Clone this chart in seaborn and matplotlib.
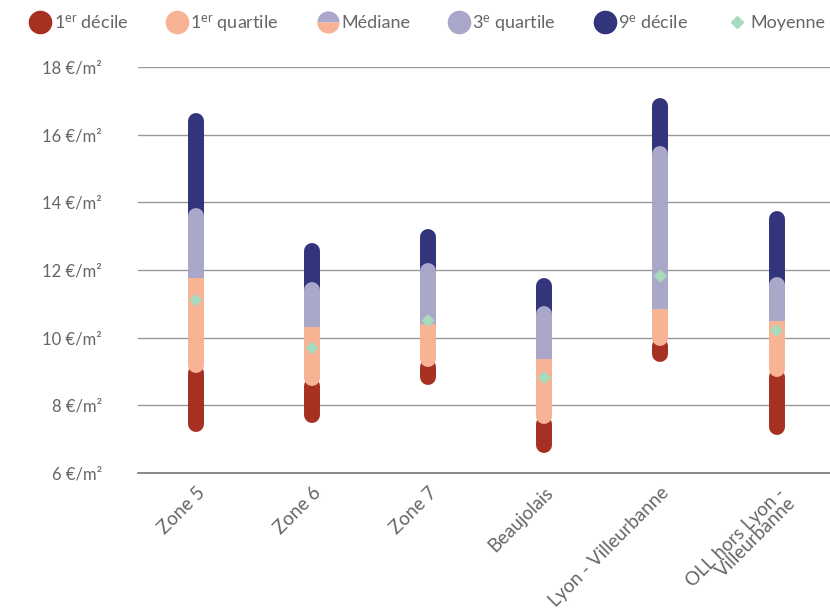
import matplotlib
matplotlib.use("Agg")
import matplotlib.pyplot as plt
from matplotlib.lines import Line2D
import numpy as np
import pandas as pd
import seaborn as sns

zones = ['Zone 5', 'Zone 6', 'Zone 7', 'Beaujolais', 'Lyon - Villeurbanne',
         'OLL hors Lyon -\nVilleurbanne']
d1 = [7.20, 7.47, 8.59, 6.59, 9.29, 7.12]
q1 = [8.95, 8.57, 9.12, 7.44, 9.75, 8.83]
med = [11.76, 10.32, 10.40, 9.36, 10.85, 10.48]
q3 = [13.82, 11.63, 12.20, 10.94, 15.65, 11.80]
d9 = [16.63, 12.81, 13.20, 11.77, 17.08, 13.75]
moy = [11.11, 9.69, 10.50, 8.82, 11.82, 10.21]

c_d1 = '#A63122'
c_q1 = '#F7B394'
c_q3 = '#A9A8CB'
c_d9 = '#32347C'
c_moy = '#A8DABD'
grey = '#666666'

sns.set_theme(style='white')
plt.rcParams['font.family'] = ['Lato', 'DejaVu Sans']
plt.rcParams['mathtext.fontset'] = 'custom'
plt.rcParams['mathtext.rm'] = 'Lato'
plt.rcParams['mathtext.it'] = 'Lato'
plt.rcParams['mathtext.bf'] = 'Lato'

fig = plt.figure(figsize=(8.3, 6.14), dpi=100)
ax = fig.add_axes([0.166, 0.2297, 0.834, 0.6613])
ax.set_ylim(6, 18)
ax.set_xlim(-0.5, 5.46)

x = np.arange(len(zones))
lw = 11.5
# half the bar width in data units, so the round caps stay inside the values
px_per_unit = ax.bbox.height / 12
r = (lw / 2 * fig.dpi / 72) / px_per_unit

d1a, q1a, meda, q3a, d9a = map(np.array, (d1, q1, med, q3, d9))

ax.vlines(x, meda, d9a - r, colors=c_d9, linewidth=lw, capstyle='round', zorder=3)
ax.vlines(x, d1a + r, q1a, colors=c_d1, linewidth=lw, capstyle='round', zorder=3)
ax.vlines(x, meda, q3a - r, colors=c_q3, linewidth=lw, capstyle='round', zorder=4)
ax.vlines(x, q1a + r, meda, colors=c_q1, linewidth=lw, capstyle='round', zorder=5)
ax.vlines(x, meda, q3a - r, colors=c_q3, linewidth=lw, capstyle='butt', zorder=6)

df = pd.DataFrame({'x': x, 'moy': moy})
sns.scatterplot(data=df, x='x', y='moy', marker='D', s=45, color=c_moy,
                edgecolor='none', zorder=7, ax=ax, legend=False)

ax.set_yticks(range(6, 19, 2))
ax.set_yticklabels([f'{v} €/m²' for v in range(6, 19, 2)])
ax.grid(axis='y', color='#999999', linewidth=1)
ax.grid(axis='x', visible=False)
ax.set_axisbelow(True)
for s in ['top', 'right', 'left']:
    ax.spines[s].set_visible(False)
ax.spines['bottom'].set_color('#777777')
ax.spines['bottom'].set_linewidth(1.2)
ax.tick_params(axis='y', length=0, pad=26, labelsize=12, labelcolor=grey)
ax.set_xticks(x)
ax.set_xticklabels(zones, rotation=45, ha='right', rotation_mode='anchor',
                   fontsize=13.5, color=grey, linespacing=0.85)
ax.tick_params(axis='x', length=0, pad=8)
ax.set_xlabel('')
ax.set_ylabel('')

ms = 16
handles = [
    Line2D([], [], marker='o', ls='', ms=ms, color=c_d1),
    Line2D([], [], marker='o', ls='', ms=ms, color=c_q1),
    Line2D([], [], marker='o', ls='', ms=ms, fillstyle='top',
           markerfacecolor=c_q3, markerfacecoloralt=c_q1, markeredgewidth=0),
    Line2D([], [], marker='o', ls='', ms=ms, color=c_q3),
    Line2D([], [], marker='o', ls='', ms=ms, color=c_d9),
    Line2D([], [], marker='D', ls='', ms=6, color=c_moy),
]
labels = ['1$^{\\mathrm{er}}$ décile', '1$^{\\mathrm{er}}$ quartile', 'Médiane',
          '3$^{\\mathrm{e}}$ quartile', '9$^{\\mathrm{e}}$ décile', 'Moyenne']
fig.legend(handles, labels, loc='upper center', bbox_to_anchor=(0.515, 1.005),
           ncol=6, frameon=False, fontsize=13, labelcolor=grey,
           handletextpad=0.15, columnspacing=2.1, handlelength=1.2)

fig.savefig('out.png', dpi=100)
